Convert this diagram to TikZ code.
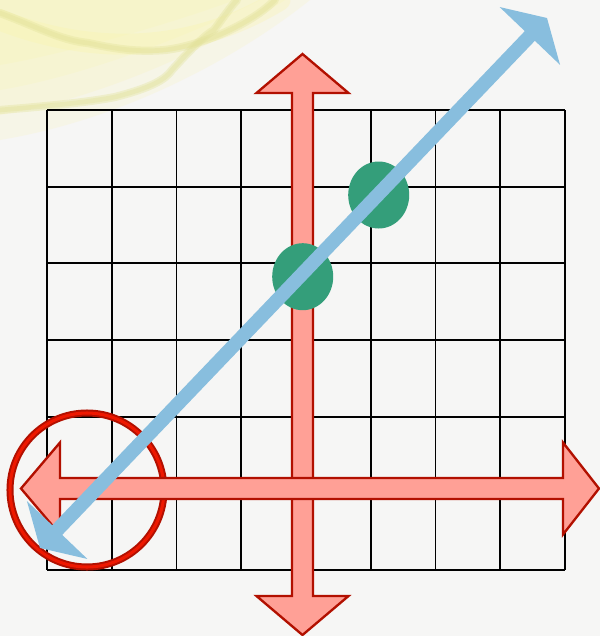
\documentclass[tikz,border=0pt]{standalone}
\usepackage{tikz}
\usetikzlibrary{arrows.meta}

\definecolor{paper}{RGB}{246,246,245}
\definecolor{swirlpale}{RGB}{250,244,170}
\definecolor{swirldark}{RGB}{225,225,150}
\definecolor{salmon}{RGB}{255,160,150}
\definecolor{darkred}{RGB}{178,16,0}
\definecolor{ringred}{RGB}{238,24,0}
\definecolor{dotgreen}{RGB}{52,158,122}
\definecolor{skyblue}{RGB}{136,190,222}

\begin{document}
\begin{tikzpicture}[x=0.03cm, y=-0.03cm,
    gridline/.style={line width=1.7pt, black},
    blockarrow/.style={fill=salmon, draw=darkred, line width=2pt, line join=miter},
    dot/.style={fill=dotgreen},
    swirl/.style={swirldark, line cap=round, opacity=0.35},
    bluearrow/.style={skyblue, line width=11.9pt,
        {Triangle[width=70.5pt, length=21.2pt]}-{Triangle[width=70.5pt, length=21.2pt]}}]

    % --- Arka plan ---
    \fill[paper] (0,0) rectangle (600,636);
    \useasboundingbox (0,0) rectangle (600,636);

    % --- Sarı fırça izleri (yumuşak, üst üste saydam) ---
    \foreach \r in {140,115,90,65}
        \fill[swirlpale, opacity=0.18] (0,0) -- ({\r+170},0)
            .. controls ({\r+100},{\r*0.4}) and ({\r*0.9},{\r*0.85}) .. (0,\r) -- cycle;
    \draw[swirlpale, line width=18pt, opacity=0.3, line cap=round] (0,20) .. controls (90,55) and (190,55) .. (280,0);
    \foreach \w in {7pt,4pt}
    {
        \draw[swirl, line width=\w] (0,13) .. controls (40,28) and (60,40) .. (88,43)
            .. controls (120,50) and (140,52) .. (165,50) .. controls (200,46) and (250,25) .. (275,0);
        \draw[swirl, line width=\w] (0,110) .. controls (50,106) and (90,102) .. (115,97)
            .. controls (150,88) and (165,80) .. (172,70) .. controls (190,50) and (205,35) .. (214,30)
            .. controls (225,15) and (232,5) .. (237,0);
    }

    % --- Izgara: 8 sütun, 6 satır ---
    \foreach \i in {0,...,8}
        \draw[gridline] ({47+64.75*\i},110) -- ({47+64.75*\i},570);
    \foreach \j in {0,...,6}
        \draw[gridline] (47,{110+76.667*\j}) -- (565,{110+76.667*\j});

    % --- Dikey eksen oku ---
    \draw[blockarrow] (302.5,54) -- (348.5,93) -- (313,93) -- (313,596) -- (348.5,596)
        -- (302.5,635) -- (256.5,596) -- (292,596) -- (292,93) -- (256.5,93) -- cycle;

    % --- Sol alttaki halka ---
    \draw[darkred, line width=6pt] (87,490) circle (77);
    \draw[ringred, line width=2.6pt] (87,490) circle (77);

    % --- Yatay eksen oku ---
    \draw[blockarrow] (21,488.5) -- (60,442.5) -- (60,478) -- (563,478) -- (563,442.5)
        -- (599,488.5) -- (563,534.5) -- (563,499) -- (60,499) -- (60,534.5) -- cycle;

    % --- Noktalar ---
    \fill[dot] (302.7,276.7) ellipse (30.5 and 33.5);
    \fill[dot] (378.7,195) ellipse (30.5 and 33.5);

    % --- Doğru ---
    \coordinate (lineSW) at (40,548);
    \coordinate (lineNE) at (547,18);
    \draw[bluearrow] (lineSW) -- (lineNE);

\end{tikzpicture}
\end{document}
